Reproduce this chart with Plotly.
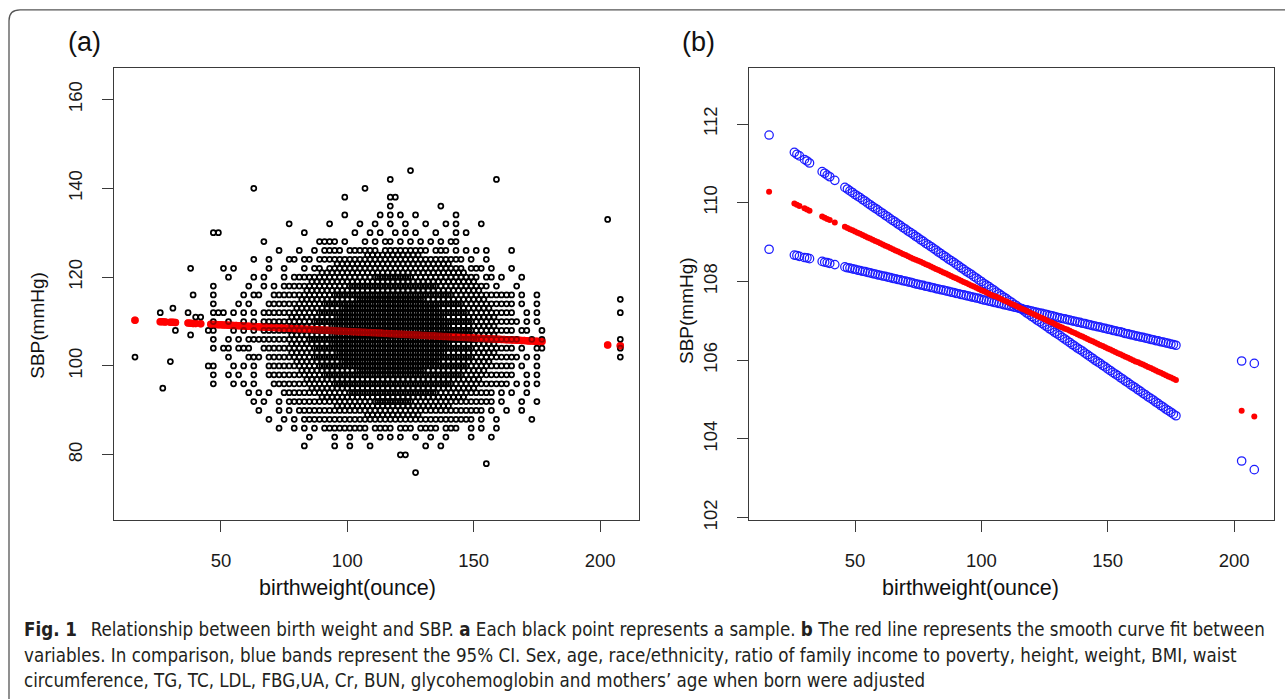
import plotly.graph_objects as go

W, H = 1285, 699

# ---------------- data ----------------
# unique birth weights (ounce) with fitted SBP and the two CI bounds (panel b, red line in panel a)
fit_x = [16, 26, 27, 28, 30, 31, 32, 37, 38, 39, 40, 42,
         46, 47, 48, 49, 50, 51, 52, 53, 54, 55, 56,
         57, 58, 59, 60, 61, 62, 63, 64, 65, 66,
         67, 68, 69, 70, 71, 72, 73, 74, 75, 76,
         77, 78, 79, 80, 81, 82, 83, 84, 85, 86,
         87, 88, 89, 90, 91, 92, 93, 94, 95, 96,
         97, 98, 99, 100, 101, 102, 103, 104, 105, 106,
         107, 108, 109, 110, 111, 112, 113, 114, 115, 116,
         117, 118, 119, 120, 121, 122, 123, 124, 125, 126,
         127, 128, 129, 130, 131, 132, 133, 134, 135, 136,
         137, 138, 139, 140, 141, 142, 143, 144, 145, 146,
         147, 148, 149, 150, 151, 152, 153, 154, 155, 156,
         157, 158, 159, 160, 161, 162, 163, 164, 165, 166,
         167, 168, 169, 170, 171, 172, 173, 174, 175, 176, 177,
         203, 208]

fit_y = [110.28, 109.98, 109.95, 109.92, 109.86, 109.83, 109.80, 109.65, 109.62, 109.59, 109.56, 109.50,
         109.39, 109.36, 109.33, 109.30, 109.27, 109.24, 109.21, 109.18, 109.15, 109.12, 109.09,
         109.06, 109.03, 109.00, 108.97, 108.94, 108.91, 108.88, 108.85, 108.82, 108.79,
         108.76, 108.73, 108.70, 108.67, 108.64, 108.61, 108.58, 108.55, 108.53, 108.50,
         108.47, 108.44, 108.41, 108.38, 108.35, 108.32, 108.29, 108.26, 108.23, 108.20,
         108.17, 108.14, 108.11, 108.08, 108.05, 108.02, 107.99, 107.96, 107.93, 107.90,
         107.87, 107.84, 107.81, 107.78, 107.75, 107.72, 107.69, 107.66, 107.63, 107.61,
         107.58, 107.55, 107.52, 107.49, 107.46, 107.43, 107.40, 107.37, 107.34, 107.31,
         107.28, 107.25, 107.22, 107.19, 107.16, 107.13, 107.10, 107.07, 107.04, 107.01,
         106.98, 106.95, 106.92, 106.89, 106.86, 106.83, 106.80, 106.78, 106.75, 106.72,
         106.69, 106.66, 106.63, 106.60, 106.57, 106.54, 106.51, 106.48, 106.45, 106.42,
         106.39, 106.36, 106.33, 106.30, 106.27, 106.24, 106.21, 106.18, 106.15, 106.12,
         106.09, 106.06, 106.03, 106.00, 105.97, 105.95, 105.92, 105.89, 105.86, 105.83,
         105.80, 105.77, 105.74, 105.71, 105.68, 105.65, 105.62, 105.59, 105.56, 105.53, 105.50,
         104.72, 104.57]

ci_steep = [111.72, 111.28, 111.23, 111.19, 111.10, 111.06, 111.01, 110.79, 110.75, 110.70, 110.66, 110.57,
            110.39, 110.35, 110.30, 110.26, 110.21, 110.17, 110.13, 110.08, 110.04, 109.99, 109.95,
            109.90, 109.86, 109.82, 109.77, 109.73, 109.68, 109.64, 109.59, 109.55, 109.51,
            109.46, 109.42, 109.37, 109.33, 109.28, 109.24, 109.20, 109.15, 109.11, 109.06,
            109.02, 108.97, 108.93, 108.89, 108.84, 108.80, 108.75, 108.71, 108.66, 108.62,
            108.57, 108.53, 108.49, 108.44, 108.40, 108.35, 108.31, 108.26, 108.22, 108.18,
            108.13, 108.09, 108.04, 108.00, 107.95, 107.91, 107.87, 107.82, 107.78, 107.73,
            107.69, 107.64, 107.60, 107.56, 107.51, 107.47, 107.42, 107.38, 107.33, 107.29,
            107.25, 107.20, 107.16, 107.11, 107.07, 107.02, 106.98, 106.94, 106.89, 106.85,
            106.80, 106.76, 106.71, 106.67, 106.63, 106.58, 106.54, 106.49, 106.45, 106.40,
            106.36, 106.31, 106.27, 106.23, 106.18, 106.14, 106.09, 106.05, 106.00, 105.96,
            105.92, 105.87, 105.83, 105.78, 105.74, 105.69, 105.65, 105.61, 105.56, 105.52,
            105.47, 105.43, 105.38, 105.34, 105.30, 105.25, 105.21, 105.16, 105.12, 105.07,
            105.03, 104.99, 104.94, 104.90, 104.85, 104.81, 104.76, 104.72, 104.68, 104.63, 104.59,
            103.44, 103.22]

ci_shallow = [108.82, 108.67, 108.66, 108.64, 108.61, 108.60, 108.58, 108.51, 108.49, 108.48, 108.46, 108.43,
              108.37, 108.35, 108.34, 108.32, 108.31, 108.29, 108.28, 108.26, 108.25, 108.23, 108.22,
              108.20, 108.19, 108.17, 108.16, 108.14, 108.13, 108.11, 108.10, 108.08, 108.07,
              108.05, 108.04, 108.02, 108.01, 107.99, 107.98, 107.96, 107.94, 107.93, 107.91,
              107.90, 107.88, 107.87, 107.85, 107.84, 107.82, 107.81, 107.79, 107.78, 107.76,
              107.75, 107.73, 107.72, 107.70, 107.69, 107.67, 107.66, 107.64, 107.63, 107.61,
              107.60, 107.58, 107.57, 107.55, 107.53, 107.52, 107.50, 107.49, 107.47, 107.46,
              107.44, 107.43, 107.41, 107.40, 107.38, 107.37, 107.35, 107.34, 107.32, 107.31,
              107.29, 107.28, 107.26, 107.25, 107.23, 107.22, 107.20, 107.19, 107.17, 107.16,
              107.14, 107.13, 107.11, 107.09, 107.08, 107.06, 107.05, 107.03, 107.02, 107.00,
              106.99, 106.97, 106.96, 106.94, 106.93, 106.91, 106.90, 106.88, 106.87, 106.85,
              106.84, 106.82, 106.81, 106.79, 106.78, 106.76, 106.75, 106.73, 106.72, 106.70,
              106.68, 106.67, 106.65, 106.64, 106.62, 106.61, 106.59, 106.58, 106.56, 106.55,
              106.53, 106.52, 106.50, 106.49, 106.47, 106.46, 106.44, 106.43, 106.41, 106.40, 106.38,
              105.98, 105.92]

# panel (a) raw samples, read as counts per 2-oz x 2-mmHg cell (0-4 samples per cell)
grid_cols_x = [45, 47, 49, 51, 53, 55, 57, 59, 61, 63,
               65, 67, 69, 71, 73, 75, 77, 79, 81, 83,
               85, 87, 89, 91, 93, 95, 97, 99, 101, 103,
               105, 107, 109, 111, 113, 115, 117, 119, 121, 123,
               125, 127, 129, 131, 133, 135, 137, 139, 141, 143,
               145, 147, 149, 151, 153, 155, 157, 159, 161, 163,
               165, 167, 169, 171, 173, 175, 177, 179]
grid_rows_y = [144, 142, 140, 138, 136, 134, 132, 130, 128, 126, 124, 122, 120, 118, 116, 114, 112, 110,
               108, 106, 104, 102, 100, 98, 96, 94, 92, 90, 88, 86, 84, 82, 80, 78, 76]
grid_rows = [
    ".......... .......... .......... .......... 1......... .......... ........",
    ".......... .......... .......... ......1... .......... .......1.. ........",
    ".........1 .......... .......... .1........ .......... .......... ........",
    ".......... .......... .......1.. ......11.. .......... .......... ........",
    ".......... .......... .......... ......1... ......1... .......... ........",
    ".......... .......... .......1.. ....1.1.1. .1.......1 .......... ........",
    ".......... ......1... ....1..... 1..1..1..1 ...1...1.1 ....1..... ........",
    ".11....... .........1 .........1 ..1.1..1.1 .1...1...1 .1........ ........",
    ".......... .1........ ..1111.1.. .1.1.11.1. 1.1.1.1.11 .......... ........",
    ".......... ....1...1. .1.1111.11 1111.11111 1111.111.1 .1.1.1.... 1.......",
    ".........1 ..1...11.1 1.11111111 1222222222 2211111111 1.1..1.... ........",
    "...1.1.... ..1..1...1 .11.122222 2222222222 2222222211 1.111.1... 1.......",
    "....1....1 .1...1.111 1122222222 2223333333 2222222222 2111.11.1. ..1.....",
    ".1......1. .1.1.11111 2222222233 3333333333 3333322222 222111.1.. .1......",
    ".1.....1.1 1..1111112 2222233333 3333333333 3333333322 2222111111 1.1..1..",
    ".1....1.1. ..11111122 2223333333 4444444444 4443333333 2222211111 1.1..1..",
    ".111.1.1.1 .111111222 2233333444 4444444444 4444443333 3222221111 1..1.1..",
    ".1..1..1.1 .111112222 2333334444 4444444444 4444444333 3322222111 11.1.1..",
    "11...1.1.1 .111112222 2333344444 4444444444 4444444433 3322222111 1.11..1.",
    ".1..1.1.11 1111112222 3333344444 4444444444 4444444433 3332222111 11..1.1.",
    ".1.11.111. .111112222 2333344444 4444444444 4444444433 3322222111 1.1..11.",
    "....1...11 1.11112222 2333334444 4444444444 4444444333 3322222111 11.1.1..",
    "11...1.1.1 ..11111222 2233333444 4444444444 4444443333 3222221111 1.1..1..",
    ".1..1.1..1 ..11111122 2223333333 4444444444 4443333333 2222211111 1..1.1..",
    ".1...1.1.1 ...1111112 2222233333 3333333333 3333333322 2222111111 .1.1.1..",
    "........1. 1.1..11111 2222222233 3333333333 3333322222 2221111.1. 1..1....",
    ".........1 .1..1.1111 1122222222 2223333333 2222222222 2111111.1. ..1..1..",
    ".......... 1...1.1.11 1111122222 2222222222 2222222211 11111.1..1 ..1.....",
    ".......... ..1..1.1.1 1111111111 1222222222 2211111111 111.1..1.. ....1...",
    ".......... ....1..1.1 .1.1111111 11.1111.11 1.1111.111 ..1.1..1.. ........",
    ".......... .......... 1....1..1. .1..1.1.1. .1..1..1.. ..1...1... ........",
    ".......... .........1 .....1..1. ..1....... ...1..1... .......... ........",
    ".......... .......... .......... ........11 .......... .......... ........",
    ".......... .......... .......... .......... .......... .....1.... ........",
    ".......... .......... .......... .......... .1........ .......... ........",
]
# isolated samples outside the grid
left_x = [16, 26, 27, 30, 31, 32, 37, 38, 38, 39, 40, 42]
left_y = [102, 112, 95, 101, 113, 108, 112, 122, 107, 116, 111, 111]
right_x = [203, 208, 208, 208, 208, 208]
right_y = [133, 115, 112, 106, 104, 102]

x_ticks = [50, 100, 150, 200]
y_ticks_a = [80, 100, 120, 140, 160]
y_ticks_b = [102, 104, 106, 108, 110, 112]

caption_lines = [
    "<b>Fig. 1</b>\u2002 Relationship between birth weight and SBP. <b>a</b> Each black point represents a sample. "
    "<b>b</b> The red line represents the smooth curve fit between",
    "variables. In comparison, blue bands represent the 95% CI. Sex, age, race/ethnicity, ratio of family income "
    "to poverty, height, weight, BMI, waist",
    "circumference, TG, TC, LDL, FBG,UA, Cr, BUN, glycohemoglobin and mothers\u2019 age when born were adjusted",
]

# ---------------- decode sample cells ----------------
offsets = [(0, 0), (1, 1), (1, 0), (0, 1)]
sx, sy = [], []
for yv, row in zip(grid_rows_y, grid_rows):
    r = row.replace(" ", "").ljust(len(grid_cols_x), ".")[:len(grid_cols_x)]
    for xv, ch in zip(grid_cols_x, r):
        if ch.isdigit():
            for dx, dy in offsets[:int(ch)]:
                sx.append(xv + dx)
                sy.append(yv + dy)
sx += left_x + right_x
sy += left_y + right_y

# ---------------- figure ----------------
FONT = "Liberation Sans, Arial, Helvetica, sans-serif"
AX = "#3a3a3a"

fig = go.Figure()
fig.add_trace(go.Scatter(x=fit_x, y=fit_y, mode="markers", xaxis="x", yaxis="y",
                         marker=dict(symbol="circle", size=7.5, color="#ff0000", line=dict(width=0))))
fig.add_trace(go.Scatter(x=sx, y=sy, mode="markers", xaxis="x", yaxis="y",
                         marker=dict(symbol="circle-open", size=5.0, color="#000000", line=dict(width=1.75))))
# the smooth fit shows through the dense cloud
fig.add_trace(go.Scatter(x=fit_x, y=fit_y, mode="markers", xaxis="x", yaxis="y", opacity=0.6,
                         marker=dict(symbol="circle", size=7.5, color="#ff0000", line=dict(width=0))))

fig.add_trace(go.Scatter(x=fit_x, y=ci_steep, mode="markers", xaxis="x2", yaxis="y2",
                         marker=dict(symbol="circle-open", size=8.4, color="#1c1cff", line=dict(width=1.25))))
fig.add_trace(go.Scatter(x=fit_x, y=ci_shallow, mode="markers", xaxis="x2", yaxis="y2",
                         marker=dict(symbol="circle-open", size=8.4, color="#1c1cff", line=dict(width=1.25))))
fig.add_trace(go.Scatter(x=fit_x, y=fit_y, mode="markers", xaxis="x2", yaxis="y2",
                         marker=dict(symbol="circle", size=6, color="#ff0000", line=dict(width=0))))

common = dict(showline=True, mirror=True, linecolor=AX, linewidth=1.3, ticks="outside", ticklen=11,
              tickwidth=1.3, tickcolor=AX, showgrid=False, zeroline=False,
              tickfont=dict(family=FONT, size=18.5, color="#1a1a1a"))

fig.update_layout(
    width=W, height=H, margin=dict(l=0, r=0, t=0, b=0),
    paper_bgcolor="white", plot_bgcolor="white", showlegend=False,
    xaxis=dict(domain=[114 / W, 639 / W], range=[7.7, 215.4], tickvals=x_ticks, anchor="y",
               ticklabelstandoff=13, **common),
    yaxis=dict(domain=[1 - 528 / H, 1 - 69 / H], range=[65.4, 167.1], tickvals=y_ticks_a, anchor="x",
               tickangle=-90, ticklabelstandoff=12, **common),
    xaxis2=dict(domain=[749 / W, 1274 / W], range=[8.05, 215.8], tickvals=x_ticks, anchor="y2",
                ticklabelstandoff=13, **common),
    yaxis2=dict(domain=[1 - 528 / H, 1 - 69 / H], range=[101.95, 113.425], tickvals=y_ticks_b, anchor="x2",
                tickangle=-90, ticklabelstandoff=12, **common),
)

def ann(text, px, py, size, angle=0, xanchor="center", family=FONT, color="#111111"):
    fig.add_annotation(text=text, x=px / W, y=1 - py / H, xref="paper", yref="paper", showarrow=False,
                       xanchor=xanchor, yanchor="middle", textangle=angle,
                       font=dict(family=family, size=size, color=color))

ann("(a)", 84, 43, 27)
ann("(b)", 698, 43, 27)
ann("SBP(mmHg)", 38, 331, 19, angle=-90)
ann("SBP(mmHg)", 686, 316, 19, angle=-90)
ann("birthweight(ounce)", 347, 597, 21.5)
ann("birthweight(ounce)", 970, 597, 21.5)

CAP_FONT = "DejaVu Sans Condensed, Liberation Sans Narrow, Arial Narrow, sans-serif"
for line, py in zip(caption_lines, [640, 666, 691]):
    ann(line, 22, py, 18.6, xanchor="left", family=CAP_FONT, color="#231f20")

# rounded figure frame (top-left corner visible, continues past the right and bottom edges)
def X(px): return px / W
def Y(py): return 1 - py / H
frame = (f"M {X(1300)} {Y(10)} L {X(20)} {Y(10)} Q {X(9)} {Y(10)} {X(9)} {Y(21)} L {X(9)} {Y(720)}")
fig.add_shape(type="path", path=frame, xref="paper", yref="paper", line=dict(color="#555555", width=1.3))

fig.write_html("out.html")
